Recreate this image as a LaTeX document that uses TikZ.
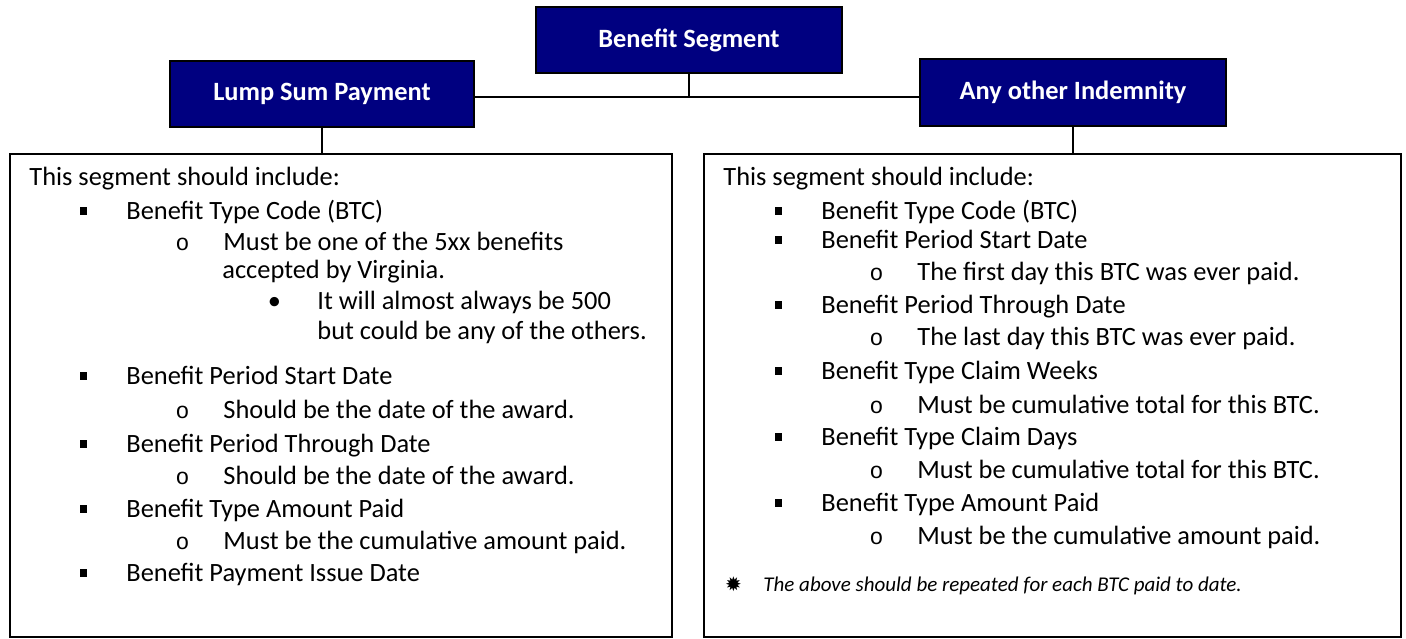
\documentclass[tikz,border=0pt]{standalone}
\usepackage{fontspec}
\usepackage{tikz}
\setmainfont{Carlito}
\newfontfamily\monofont{Liberation Mono}
\newfontfamily\symfont{DejaVu Sans}
\definecolor{hnavy}{rgb}{0, 0, 0.5}
\tikzset{head/.style = {draw = black, line width = 0.8pt, fill = hnavy, text = white, font = \bfseries\fontsize{13.2}{16}\selectfont, minimum width = 153pt, minimum height = 33pt, inner sep = 0}}
\tikzset{panel/.style = {draw, line width = 0.9pt, inner sep = 0, minimum height = 241.5pt}}
\tikzset{row/.style = {anchor = base west, inner sep = 0, font = \fontsize{13.2}{16}\selectfont}}
\tikzset{note/.style = {anchor = base west, inner sep = 0, font = \itshape\fontsize{10.5}{12}\selectfont}}
\tikzset{wire/.style = {line width = 0.75pt}}
\newcommand\lead[1]{\ifcase#1\or
  \makebox[0pt]{\rule[2.1pt]{3.7pt}{3.7pt}}\hspace{21.5pt}\or
  \makebox[0pt]{\monofont\fontsize{11.5}{12}\selectfont o}\hspace{20.5pt}\or
  \makebox[0pt]{•}\hspace{21.5pt}\or\or\fi}

\begin{document}
\begin{tikzpicture}[x = 0.5pt, y = -0.5pt]
    \useasboundingbox (0, 0) rectangle (1406, 638);

    \node [head] (bs) at (689, 40) {Benefit Segment};
    \node [head, minimum width = 152pt] (ls) at (322, 94) {Lump Sum Payment};
    \node [head, minimum height = 33.5pt] (ao) at (1073, 92.5) {Any other Indemnity};

    \node [panel, minimum width = 331pt] (lbox) at (341, 395.5) {};
    \node [panel, minimum width = 348.5pt] (rbox) at (1052.5, 395.5) {};

    \coordinate (bus) at (689, 97);
    \draw [wire] (bs.south) -- (bus);
    \draw [wire] (ls.east |- bus) -- (ao.west |- bus);
    \draw [wire] (ls.south) -- (ls.south |- lbox.north);
    \draw [wire] (ao.south) -- (ao.south |- rbox.north);

    \foreach \lv/\y/\txt [count = \i] in {0/185/{This segment should include:},
        1/219/{Benefit Type Code (BTC)}, 2/250/{Must be one of the 5xx benefits},
        4/278/{accepted by Virginia.}, 3/309/{It will almost always be 500},
        5/339/{but could be any of the others.}, 1/384/{Benefit Period Start Date},
        2/418/{Should be the date of the award.}, 1/452/{Benefit Period Through Date},
        2/484/{Should be the date of the award.}, 1/517/{Benefit Type Amount Paid},
        2/549/{Must be the cumulative amount paid.}, 1/581/{Benefit Payment Issue Date}}
    {
        \pgfmathsetmacro\dx{{19, 73, 172, 264, 212, 307}[\lv]}
        \node [row] (l\i) at (10 + \dx, \y) {\lead{\lv}\txt};
    }

    \foreach \lv/\y/\txt [count = \i] in {0/185/{This segment should include:},
        1/219/{Benefit Type Code (BTC)}, 1/248/{Benefit Period Start Date},
        2/280/{The first day this BTC was ever paid.}, 1/313/{Benefit Period Through Date},
        2/345/{The last day this BTC was ever paid.}, 1/379/{Benefit Type Claim Weeks},
        2/413/{Must be cumulative total for this BTC.}, 1/445/{Benefit Type Claim Days},
        2/478/{Must be cumulative total for this BTC.}, 1/511/{Benefit Type Amount Paid},
        2/544/{Must be the cumulative amount paid.}}
    {
        \pgfmathsetmacro\dx{{19, 74, 172, 264, 213, 307}[\lv]}
        \node [row] (r\i) at (704 + \dx, \y) {\lead{\lv}\txt};
    }

    \node [note] (rnote) at (733, 591) {\makebox[0pt]{\upshape\symfont\fontsize{10}{10}\selectfont ✹}\hspace{15pt}The above should be repeated for each BTC paid to date.};
\end{tikzpicture}
\end{document}
